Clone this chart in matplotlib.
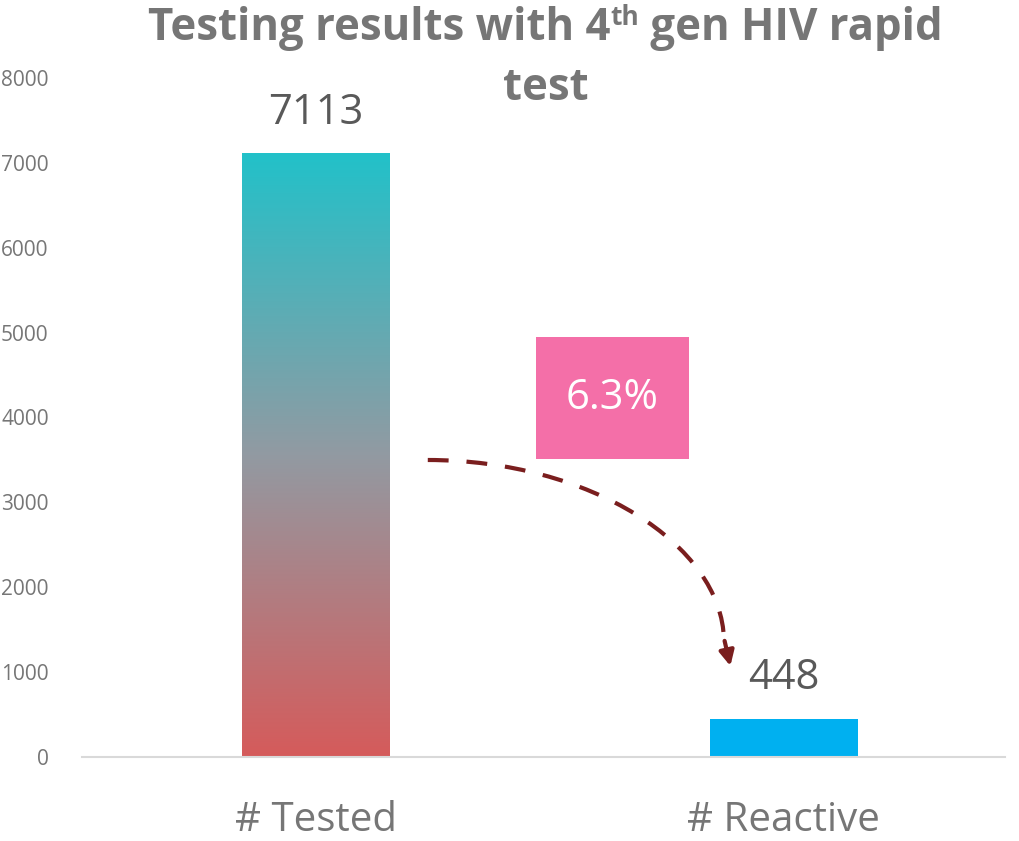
import matplotlib
matplotlib.use("Agg")
import matplotlib.pyplot as plt
import numpy as np
from matplotlib.path import Path
from matplotlib.patches import PathPatch, FancyArrowPatch, Rectangle

plt.rcParams['font.family'] = ['Open Sans', 'DejaVu Sans']

# data
categories = ['# Tested', '# Reactive']
values = [7113, 448]
pct_label = '6.3%'
yticks = [0, 1000, 2000, 3000, 4000, 5000, 6000, 7000, 8000]
title_parts = ['Testing results with 4', 'th', ' gen HIV rapid']
title_line2 = 'test'

grey = '#767676'
bar_w = 0.316

fig = plt.figure(figsize=(10.2, 8.41), dpi=100)
ax = fig.add_axes([0.0804, 0.0999, 0.9046, 0.8074])

x = np.arange(len(categories))

# gradient bar for "Tested" (teal top -> grey -> red bottom)
top = np.array([34, 193, 201]) / 255
mid = np.array([146, 154, 162]) / 255
bot = np.array([213, 91, 91]) / 255
t = np.linspace(0, 1, 256)[:, None]  # 0 = top, 1 = bottom
grad = np.where(t < 0.5, top + (mid - top) * (t / 0.5), mid + (bot - mid) * ((t - 0.5) / 0.5))
ax.imshow(grad[:, None, :], extent=[x[0] - bar_w / 2, x[0] + bar_w / 2, 0, values[0]],
          aspect='auto', zorder=2, interpolation='bilinear')

# plain bar for "Reactive"
ax.bar(x[1], values[1], width=bar_w, color='#00B0F0', zorder=2)

for xi, v in zip(x, values):
    ax.text(xi, v + 230, str(v), ha='center', va='bottom', fontsize=30, color='#595959')

ax.set_xlim(-0.5, 1.472)
ax.set_ylim(0, 8000)
ax.set_yticks(yticks)
ax.set_yticklabels([str(v) for v in yticks], fontsize=15, color=grey)
ax.set_xticks(x)
ax.set_xticklabels(categories, fontsize=29, color=grey)
ax.tick_params(axis='y', length=0, pad=24)
ax.tick_params(axis='x', length=0, pad=31)
for s in ['top', 'right', 'left']:
    ax.spines[s].set_visible(False)
ax.spines['bottom'].set_color('#D9D9D9')
ax.spines['bottom'].set_linewidth(1.5)

# percentage box
ax.add_patch(Rectangle((0.470, 3510), 0.327, 1440, facecolor='#F46FA8',
                       edgecolor='none', zorder=3))
ax.text(0.633, 4230, pct_label, ha='center', va='center', fontsize=30, color='white', zorder=4)

# dashed curved arrow
arc_col = '#7A1E1E'
ctrl = [(0.239, 3499), (0.585, 3499), (0.868, 2498), (0.872, 1378)]
curve = Path(ctrl, [Path.MOVETO, Path.CURVE4, Path.CURVE4, Path.CURVE4])
ax.add_patch(PathPatch(curve, facecolor='none', edgecolor=arc_col, lw=3,
                       linestyle=(0, (5, 4.3)), capstyle='butt', zorder=3))
ax.add_patch(FancyArrowPatch((0.872, 1400), (0.887, 1040), arrowstyle='-|>',
                             mutation_scale=22, color=arc_col, lw=3, zorder=3))

# title, first line built from pieces so "th" can be a superscript
renderer = fig.canvas.get_renderer()
sizes = [31.5, 19, 31.5]
raise_px = [0, 15, 0]
texts = []
widths = []
for s, fs in zip(title_parts, sizes):
    tx = fig.text(0, 0, s, fontsize=fs, fontweight='bold', color=grey, va='baseline')
    texts.append(tx)
    widths.append(tx.get_window_extent(renderer).width)
W = fig.get_figwidth() * fig.dpi
H = fig.get_figheight() * fig.dpi
cx = 0.535 * W
base = 0.952 * H
xpos = cx - sum(widths) / 2
for tx, w, r in zip(texts, widths, raise_px):
    tx.set_position((xpos / W, (base + r) / H))
    xpos += w
fig.text(0.535, 0.881, title_line2, ha='center', va='baseline', fontsize=31.5,
         fontweight='bold', color=grey)

fig.savefig('out.png', dpi=100)
